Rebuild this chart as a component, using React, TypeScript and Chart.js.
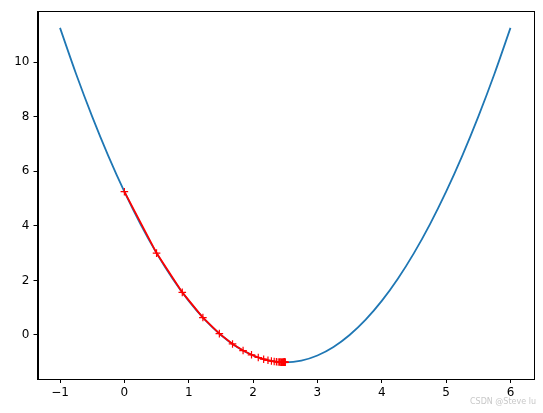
import React, { useEffect, useRef } from "react";
import { Chart, registerables } from "chart.js";

Chart.register(...registerables);

const curveX = [-1, -0.75, -0.5, -0.25, 0, 0.25, 0.5, 0.75, 1, 1.25, 1.5, 1.75, 2, 2.25, 2.5, 2.75, 3, 3.25, 3.5, 3.75, 4, 4.25, 4.5, 4.75, 5, 5.25, 5.5, 5.75, 6];
const curveY = [11.25, 9.5625, 8, 6.5625, 5.25, 4.0625, 3, 2.0625, 1.25, 0.5625, 0, -0.4375, -0.75, -0.9375, -1, -0.9375, -0.75, -0.4375, 0, 0.5625, 1.25, 2.0625, 3, 4.0625, 5.25, 6.5625, 8, 9.5625, 11.25];

const pathX = [0, 0.5, 0.9, 1.22, 1.476, 1.6808, 1.84464, 1.975712, 2.0805696, 2.16445568, 2.231564544, 2.2852516, 2.3282013, 2.362561, 2.3900488, 2.4120391, 2.4296313, 2.443705, 2.454964, 2.4639712, 2.471177, 2.4769416, 2.4815533, 2.4852426, 2.4881941, 2.4905553, 2.4924442, 2.4939554, 2.4951643, 2.4961314];
const pathY = [5.25, 3.0, 1.56, 0.6384, 0.048576, -0.32891, -0.5705, -0.72512, -0.82408, -0.88741, -0.92794, -0.95388, -0.97049, -0.98111, -0.98791, -0.99226, -0.99505, -0.99683, -0.99797, -0.9987, -0.99917, -0.99947, -0.99966, -0.99978, -0.99986, -0.99991, -0.99994, -0.99996, -0.99998, -0.99999];

const xTicks = [-1, 0, 1, 2, 3, 4, 5, 6];
const yTicks = [0, 2, 4, 6, 8, 10];
const watermark = "CSDN @Steve lu";

const fmt = (v: number) => (v < 0 ? "\u2212" + Math.abs(v) : String(v));

export default function App() {
  const ref = useRef<HTMLCanvasElement>(null);
  useEffect(() => {
    document.body.style.margin = "0";
    const frame = {
      id: "frame",
      afterDraw(chart: any) {
        const { ctx, chartArea: a } = chart;
        ctx.save();
        ctx.strokeStyle = "#000";
        ctx.lineWidth = 1;
        ctx.strokeRect(Math.round(a.left) + 0.5, Math.round(a.top) + 0.5, Math.round(a.right - a.left), Math.round(a.bottom - a.top));
        ctx.fillStyle = "#c8c8c8";
        ctx.font = "8px 'DejaVu Sans'";
        ctx.textAlign = "left";
        ctx.textBaseline = "middle";
        ctx.fillText(watermark, 470, 402);
        ctx.restore();
      },
    };
    const chart = new Chart(ref.current!, {
      type: "line",
      data: {
        datasets: [
          {
            data: curveX.map((x, i) => ({ x, y: curveY[i] })),
            borderColor: "#1f77b4",
            borderWidth: 1.8,
            pointRadius: 0,
            fill: false,
            cubicInterpolationMode: "monotone",
            order: 2,
          },
          {
            data: pathX.map((x, i) => ({ x, y: pathY[i] })),
            borderColor: "#ff0000",
            borderWidth: 1.8,
            pointStyle: "cross",
            pointRadius: 3.8,
            pointBorderWidth: 1.2,
            pointBorderColor: "#ff0000",
            pointBackgroundColor: "#ff0000",
            fill: false,
            order: 1,
          },
        ],
      },
      options: {
        animation: false,
        responsive: false,
        layout: { padding: { top: 10, right: 10, left: 0, bottom: 0 } },
        plugins: { legend: { display: false }, tooltip: { enabled: false } },
        scales: {
          x: {
            type: "linear",
            min: -1.35,
            max: 6.35,
            afterBuildTicks: (s: any) => {
              s.ticks = xTicks.map((v) => ({ value: v }));
            },
            afterFit: (s: any) => {
              s.height = 34;
            },
            ticks: { callback: (v: any) => fmt(Number(v)), color: "#000", font: { family: "DejaVu Sans", size: 12 }, padding: 3, maxRotation: 0 },
            grid: { drawOnChartArea: false, tickLength: 4, tickColor: "#000" },
            border: { color: "#000" },
          },
          y: {
            type: "linear",
            min: -1.6125,
            max: 11.8625,
            afterBuildTicks: (s: any) => {
              s.ticks = yTicks.map((v) => ({ value: v }));
            },
            afterFit: (s: any) => {
              s.width = 37.5;
            },
            ticks: { callback: (v: any) => fmt(Number(v)), color: "#000", font: { family: "DejaVu Sans", size: 12 }, padding: 4 },
            grid: { drawOnChartArea: false, tickLength: 4, tickColor: "#000" },
            border: { color: "#000" },
          },
        },
      } as any,
      plugins: [frame],
    });
    return () => chart.destroy();
  }, []);
  return <canvas ref={ref} width={543} height={413} style={{ display: "block" }} />;
}
